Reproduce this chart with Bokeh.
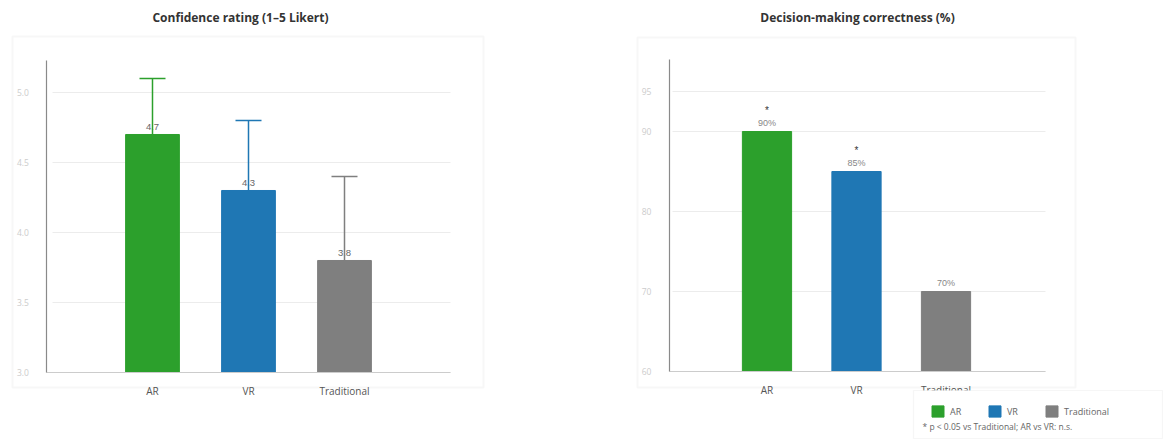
from bokeh.plotting import figure
from bokeh.models import (ColumnDataSource, FactorRange, Range1d, FixedTicker, Whisker,
                          TeeHead, Label, BoxAnnotation, Legend, LegendItem,
                          NumeralTickFormatter)
from bokeh.layouts import row
from bokeh.embed import file_html
from bokeh.resources import INLINE

# ---- data ----
groups = ["AR", "VR", "Traditional"]
colors = ["#2ca02c", "#1f77b4", "#7f7f7f"]
conf_mean = [4.7, 4.3, 3.8]
conf_sd = [0.4, 0.5, 0.6]
conf_base = 3.0
conf_ticks = [3.0, 3.5, 4.0, 4.5, 5.0]
corr_pct = [90, 85, 70]
corr_sig = ["*", "*", ""]
corr_base = 60
corr_ticks = [60, 70, 80, 90, 95]
title_left = "Confidence rating (1\u20135 Likert)"
title_right = "Decision-making correctness (%)"
footnote = "* p < 0.05 vs Traditional; AR vs VR: n.s."

FONT = "Open Sans"
H = 440


def style(p, ticks, fmt, ybounds, yloc, xbounds, xloc, gbounds):
    p.background_fill_color = "white"
    p.border_fill_color = "white"
    p.outline_line_color = None
    p.xgrid.grid_line_color = None
    p.ygrid.grid_line_color = "#ececec"
    p.ygrid.grid_line_width = 1
    p.ygrid.ticker = FixedTicker(ticks=ticks)
    p.ygrid.cross_bounds = gbounds
    ya = p.yaxis[0]
    ya.ticker = FixedTicker(ticks=ticks)
    ya.formatter = fmt
    ya.bounds = ybounds
    ya.fixed_location = yloc
    ya.axis_line_color = "#8a8a8a"
    ya.axis_line_width = 1.2
    ya.major_tick_line_color = None
    ya.minor_tick_line_color = None
    ya.major_label_text_color = "#cccccc"
    ya.major_label_text_font = FONT
    ya.major_label_text_font_size = "8.5px"
    ya.major_label_standoff = 12
    xa = p.xaxis[0]
    xa.bounds = xbounds
    xa.fixed_location = xloc
    xa.axis_line_color = "#cccccc"
    xa.major_tick_line_color = None
    xa.minor_tick_line_color = None
    xa.major_label_text_color = "#555555"
    xa.major_label_text_font = FONT
    xa.major_label_text_font_size = "10px"
    xa.major_label_standoff = 5


def card(p, left, right, top, bottom):
    p.add_layout(BoxAnnotation(left=left, right=right, top=top, bottom=bottom,
                               left_units="screen", right_units="screen",
                               top_units="screen", bottom_units="screen",
                               fill_alpha=0, line_color="#e4e4e4", line_width=2,
                               level="underlay"))


def title(p, text, x):
    p.add_layout(Label(x=x, y=423, x_units="screen", y_units="screen", text=text,
                       text_align="center", text_baseline="middle",
                       text_font=FONT, text_font_style="bold",
                       text_font_size="12px", text_color="#333333"))


# ---- left chart ----
src1 = ColumnDataSource(dict(
    groups=groups, colors=colors, mean=conf_mean,
    upper=[m + s for m, s in zip(conf_mean, conf_sd)],
    lab=[f"{m:.1f}" for m in conf_mean],
))

p1 = figure(x_range=FactorRange(*groups, range_padding=1.0833, range_padding_units="absolute"),
            y_range=Range1d(2.5143, 5.6571),
            width=496, height=H, output_backend="svg", toolbar_location=None,
            min_border=0)
style(p1, conf_ticks, NumeralTickFormatter(format="0.0"), (3.0, 5.23), -0.6,
      (-0.6, 3.6), conf_base, (-0.54, 3.6))
card(p1, 12, 483, 404, 53)
title(p1, title_left, 240)

p1.vbar(x="groups", top="mean", bottom=conf_base, width=0.56, fill_color="colors",
        line_color="colors", source=src1)
for i, g in enumerate(groups):
    s = ColumnDataSource(dict(base=[g], lower=[conf_mean[i]], upper=[src1.data["upper"][i]]))
    w = Whisker(base="base", lower="lower", upper="upper", source=s, dimension="height",
                line_color=colors[i], line_width=1.5, lower_head=None,
                upper_head=TeeHead(size=26, line_color=colors[i], line_width=1.5),
                level="glyph")
    p1.add_layout(w)
p1.text(x="groups", y="mean", text="lab", source=src1, text_align="center",
        text_baseline="bottom", y_offset=-4, text_font_size="9.5px",
        text_color="#666666")

# ---- right chart ----
src2 = ColumnDataSource(dict(
    groups=groups, colors=colors, pct=corr_pct, sig=corr_sig,
    lab=[f"{v:.0f}%" for v in corr_pct],
))
p2 = figure(x_range=FactorRange(*groups, range_padding=1.93, range_padding_units="absolute"),
            y_range=Range1d(51.375, 106.375),
            width=667, height=H, output_backend="svg", toolbar_location=None,
            min_border=0, min_border_left=53)
style(p2, corr_ticks, NumeralTickFormatter(format="0"), (60, 99), -0.59,
      (-0.59, 3.61), corr_base, (-0.56, 3.61))
card(p2, 88, 526, 403, 53)
title(p2, title_right, 308)

r2 = p2.vbar(x="groups", top="pct", bottom=corr_base, width=0.55, fill_color="colors",
             line_color="colors", source=src2)
p2.text(x="groups", y="pct", text="lab", source=src2, text_align="center",
        text_baseline="bottom", y_offset=-4, text_font_size="9px", text_color="#888888")
p2.text(x="groups", y="pct", text="sig", source=src2, text_align="center",
        text_baseline="middle", y_offset=-21, text_font_size="10px", text_color="#333333")

# legend box with footnote
p2.add_layout(BoxAnnotation(left=364, right=613, top=50, bottom=2,
                            left_units="screen", right_units="screen",
                            top_units="screen", bottom_units="screen",
                            fill_color="white", fill_alpha=1, line_color="#e0e0e0",
                            line_width=1.2))
leg = Legend(items=[LegendItem(label=g, renderers=[r2], index=i) for i, g in enumerate(groups)],
             location=(381, 22), orientation="horizontal", padding=0, margin=0,
             border_line_color=None, background_fill_alpha=0,
             glyph_width=15, glyph_height=14, label_height=14, label_standoff=5, spacing=17,
             label_text_font=FONT, label_text_font_size="9px", label_text_color="#666666")
p2.add_layout(leg)
p2.add_layout(Label(x=373, y=14, x_units="screen", y_units="screen", text=footnote,
                    text_baseline="middle", text_font=FONT, text_font_size="8.5px",
                    text_color="#666666"))

layout = row(p1, p2)
open("out.html", "w").write(file_html(layout, INLINE))
